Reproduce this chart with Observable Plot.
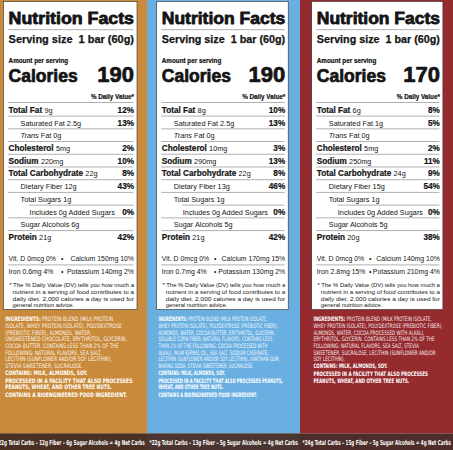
<!DOCTYPE html>
<html><head><meta charset="utf-8">
<script src="https://cdn.jsdelivr.net/npm/d3@7"></script>
<script src="https://cdn.jsdelivr.net/npm/@observablehq/plot@0.6"></script>
<style>html,body{margin:0;padding:0;background:#fff}svg{display:block}</style>
</head><body><div id="chart"></div>
<script>
// ---------------- DATA ----------------
const servingSize = ["1 bar (60g)", "1 bar (60g)", "1 bar (60g)"];
const calories = [190, 190, 170];
const nutrients = ["Total Fat","Saturated Fat","Trans Fat","Cholesterol","Sodium","Total Carbohydrate","Dietary Fiber","Total Sugars","Added Sugars","Sugar Alcohols","Protein"];
const units = ["g","g","g","mg","mg","g","g","g","g","g","g"];
const amountsA = [9, 2.5, 0, 5, 220, 22, 12, 1, 0, 6, 21];
const amountsB = [8, 2.5, 0, 10, 290, 22, 13, 1, 0, 5, 21];
const amountsC = [6, 1, 0, 5, 250, 24, 15, 1, 0, 5, 20];
const dailyA = [12, 13, null, 2, 10, 8, 43, null, 0, null, 42];
const dailyB = [10, 13, null, 3, 13, 8, 46, null, 0, null, 42];
const dailyC = [8, 5, null, 2, 11, 9, 54, null, 0, null, 38];
const minerals = ["Vit. D", "Calcium", "Iron", "Potassium"];
const mineralUnits = ["mcg", "mg", "mg", "mg"];
const mineralAmtA = [0, 150, 0.6, 140], mineralDvA = [0, 10, 4, 2];
const mineralAmtB = [0, 170, 0.7, 130], mineralDvB = [0, 15, 4, 2];
const mineralAmtC = [0, 140, 2.8, 210], mineralDvC = [0, 10, 15, 4];
const totalCarbs = [22, 22, 24];
const fiber = [12, 13, 15];
const sugarAlcohols = [6, 5, 5];
const netCarbs = [4, 4, 4];
const footnote = ["* The % Daily Value (DV) tells you how much a", "nutrient in a serving of food contributes to a", "daily diet. 2,000 calories a day is used for", "general nutrition advice."];
const ingredientsA = [
  "INGREDIENTS: PROTEIN BLEND (MILK PROTEIN",
  "ISOLATE, WHEY PROTEIN ISOLATE), POLYDEXTROSE",
  "(PREBIOTIC FIBER), ALMONDS, WATER,",
  "UNSWEETENED CHOCOLATE, ERYTHRITOL, GLYCERIN,",
  "COCOA BUTTER. CONTAINS LESS THAN 2% OF THE",
  "FOLLOWING: NATURAL FLAVORS, SEA SALT,",
  "LECITHIN (SUNFLOWER AND/OR SOY LECITHIN),",
  "STEVIA SWEETENER, SUCRALOSE."];
const ingredientsB = [
  "INGREDIENTS: PROTEIN BLEND (MILK PROTEIN ISOLATE,",
  "WHEY PROTEIN ISOLATE), POLYDEXTROSE (PREBIOTIC FIBER),",
  "ALMONDS, WATER, COCOA BUTTER, ERYTHRITOL, GLYCERIN,",
  "SOLUBLE CORN FIBER, NATURAL FLAVORS. CONTAINS LESS",
  "THAN 2% OF THE FOLLOWING: COCOA PROCESSED WITH",
  "ALKALI, PALM KERNEL OIL, SEA SALT, SODIUM CASEINATE,",
  "LECITHIN (SUNFLOWER AND/OR SOY LECITHIN), XANTHAN GUM,",
  "BAKING SODA, STEVIA SWEETENER, SUCRALOSE."];
const ingredientsC = [
  "INGREDIENTS: PROTEIN BLEND (MILK PROTEIN ISOLATE,",
  "WHEY PROTEIN ISOLATE), POLYDEXTROSE (PREBIOTIC FIBER),",
  "ALMONDS, WATER, COCOA PROCESSED WITH ALKALI,",
  "ERYTHRITOL, GLYCERIN. CONTAINS LESS THAN 2% OF THE",
  "FOLLOWING: NATURAL FLAVORS, SEA SALT, STEVIA",
  "SWEETENER, SUCRALOSE, LECITHIN (SUNFLOWER AND/OR",
  "SOY LECITHIN)."];
const allergensA = [["CONTAINS: MILK, ALMONDS, SOY."], ["PROCESSED IN A FACILITY THAT ALSO PROCESSES", "PEANUTS, WHEAT, AND OTHER TREE NUTS."], ["CONTAINS A BIOENGINEERED FOOD INGREDIENT."]];
const allergensB = [["CONTAINS: MILK, ALMONDS, SOY."], ["PROCESSED IN A FACILITY THAT ALSO PROCESSES PEANUTS,", "WHEAT, AND OTHER TREE NUTS."], ["CONTAINS A BIOENGINEERED FOOD INGREDIENT."]];
const allergensC = [["CONTAINS: MILK, ALMONDS, SOY."], ["PROCESSED IN A FACILITY THAT ALSO PROCESSES", "PEANUTS, WHEAT, AND OTHER TREE NUTS."]];

const amounts = [amountsA, amountsB, amountsC];
const daily = [dailyA, dailyB, dailyC];
const mineralAmt = [mineralAmtA, mineralAmtB, mineralAmtC];
const mineralDv = [mineralDvA, mineralDvB, mineralDvC];
const ingredients = [ingredientsA, ingredientsB, ingredientsC];
const allergens = [allergensA, allergensB, allergensC];

// ---------------- LAYOUT & STYLE ----------------
const W = 453, H = 450;
const panelEdges = [0, 147, 300, 453];
const boxLeft = [3.5, 156.7, 311.7];
const boxRight = [137, 288.2, 442.9];
const boxTop = 1.5, boxBottom = 309.5, stripTop = 433.3;
const padL = 4.6, padR = 3.5;
const panelFill = ["#c98b3b", "#6aafe2", "#952b2f"];
const stripFill = ["#4b3124", "#4a3532", "#4c2d2a"];
const INK = "#141414", RULE = "#7a7a7a";
const FONT = '"Liberation Sans", Arial, Helvetica, sans-serif';
const NARROW = '"Liberation Sans Narrow", "Arial Narrow", "DejaVu Sans Condensed", "Liberation Sans", sans-serif';
const rowY0 = 112.3, rowStep = 12.72;
const indentLevel = [0, 1, 1, 0, 0, 0, 1, 1, 2, 1, 0];
const boldRow = [true, false, false, true, true, true, false, false, false, false, true];
const ingSize = 6.2, ingStep = 6.67, ingY0 = 320.9;
const ingRegScale = [0.73, 0.623, 0.674], ingBoldScale = [0.80, 0.647, 0.72];
const stripX = [-4.4, 149, 302], stripW = 148.5;

const ctx = document.createElement("canvas").getContext("2d");
function measure(t, size, weight = "normal", style = "normal") {
  ctx.font = `${style} ${weight} ${size}px ${FONT}`;
  return ctx.measureText(t).width;
}

const rects = [], rules = [], boxes = [];
const groups = new Map();
function addText(o) {
  o = Object.assign({weight: "normal", style: "normal", anchor: "start", fill: INK, stroke: null, sw: 0, opacity: 1, fam: FONT}, o);
  const key = [o.size, o.weight, o.style, o.anchor, o.fill, o.stroke, o.sw, o.opacity, o.fam].join("|");
  if (!groups.has(key)) groups.set(key, {o, items: []});
  groups.get(key).items.push(o);
}
const fmt = v => String(v);

for (let p = 0; p < 3; p++) {
  const x0 = boxLeft[p] + padL, xR = boxRight[p] - padR, tw = xR - x0;
  rects.push({x1: panelEdges[p], x2: panelEdges[p + 1], y1: 0, y2: stripTop, c: panelFill[p]});
  rects.push({x1: panelEdges[p], x2: panelEdges[p + 1], y1: stripTop, y2: H, c: stripFill[p]});
  boxes.push({x1: boxLeft[p], x2: boxRight[p], y1: boxTop, y2: boxBottom});
  rects.push({x1: x0, x2: xR, y1: 48, y2: 55, c: INK});
  rects.push({x1: x0, x2: xR, y1: 87, y2: 89.6, c: INK});
  rects.push({x1: x0, x2: xR, y1: 243.8, y2: 251.6, c: INK});
  rects.push({x1: x0, x2: xR, y1: 276.8, y2: 279.4, c: INK});
  rules.push({y: 29.2, x1: x0, x2: xR});
  rules.push({y: 102, x1: x0, x2: xR});
  for (let r = 0; r < nutrients.length - 1; r++) {
    rules.push({y: rowY0 + r * rowStep + 3.3, x1: r === 7 ? x0 + 21 : x0, x2: xR});
  }
  rules.push({y: 264.4, x1: x0, x2: xR});

  addText({x: x0, y: 23.6, t: "Nutrition Facts", size: 16.5, weight: "bold", stroke: INK, sw: 0.8, fitW: tw});
  addText({x: x0, y: 42, t: "Serving size  " + servingSize[p], size: 10.8, weight: "bold", stroke: INK, sw: 0.25, fitW: tw});
  addText({x: x0, y: 62.6, t: "Amount per serving", size: 6.3, weight: "bold", stroke: INK, sw: 0.2});
  addText({x: x0, y: 81, t: "Calories", size: 17.5, weight: "bold", stroke: INK, sw: 0.7});
  addText({x: xR, y: 81, t: String(calories[p]), size: 22, weight: "bold", anchor: "end", stroke: INK, sw: 0.7});
  addText({x: xR, y: 98.6, t: "% Daily Value*", size: 6.3, weight: "bold", anchor: "end", stroke: INK, sw: 0.2});

  const NB = 8.2, NR = 7.3;
  nutrients.forEach((name, r) => {
    const y = rowY0 + r * rowStep;
    const x = x0 + [0, 12, 21][indentLevel[r]];
    const amt = fmt(amounts[p][r]) + units[r];
    if (r === 2) {
      addText({x, y, t: "Trans", size: NR, style: "italic"});
      addText({x: x + measure("Trans", NR, "normal", "italic"), y, t: " Fat " + amt, size: NR});
    } else if (r === 8) {
      addText({x, y, t: "Includes " + amt + " " + name, size: NR});
    } else if (boldRow[r]) {
      addText({x, y, t: name, size: NB, weight: "bold", stroke: INK, sw: 0.2});
      addText({x: x + measure(name + " ", NB, "bold"), y, t: amt, size: NR});
    } else {
      addText({x, y, t: name + " " + amt, size: NR});
    }
    if (daily[p][r] != null) addText({x: xR, y, t: daily[p][r] + "%", size: NB, weight: "bold", anchor: "end", stroke: INK, sw: 0.2});
  });

  const MS = 6.9;
  [[0, 1, 260.6], [2, 3, 273.4]].forEach(([a, b, y]) => {
    addText({x: x0, y, t: `${minerals[a]} ${fmt(mineralAmt[p][a])}${mineralUnits[a]} ${mineralDv[p][a]}%`, size: MS});
    addText({x: x0 + 53.5, y, t: "•", size: MS, anchor: "middle"});
    addText({x: xR, y, t: `${minerals[b]} ${fmt(mineralAmt[p][b])}${mineralUnits[b]} ${mineralDv[p][b]}%`, size: MS, anchor: "end"});
  });

  footnote.forEach((line, i) => {
    const fx = i === 0 ? x0 + 0.6 : x0 + 4;
    const o = {x: fx, y: 286.8 + i * 6.6, t: line, size: 5.8};
    if (i < 3) o.fitW = xR - fx;
    addText(o);
  });

  const ix = boxLeft[p] + 1.2;
  let y = ingY0;
  const regW = t => measure(t, ingSize) * ingRegScale[p];
  const boldW = t => measure(t, ingSize, "bold") * ingBoldScale[p];
  ingredients[p].forEach((line, i) => {
    if (i === 0 && line.startsWith("INGREDIENTS:")) {
      const head = "INGREDIENTS:", rest = line.slice(head.length + 1);
      addText({x: ix, y, t: head, size: ingSize, weight: "bold", fill: "#ffffff", fam: NARROW, fitW: boldW(head)});
      addText({x: ix + boldW(head + " "), y, t: rest, size: ingSize, fill: "#ffffff", opacity: 0.95, fam: NARROW, fitW: regW(rest)});
    } else {
      addText({x: ix, y, t: line, size: ingSize, fill: "#ffffff", opacity: 0.95, fam: NARROW, fitW: regW(line)});
    }
    y += ingStep;
  });
  allergens[p].forEach((para, k) => {
    if (k > 0) y += 1.3;
    para.forEach(line => {
      addText({x: ix, y, t: line, size: ingSize, weight: "bold", fill: "#ffffff", fam: NARROW, fitW: boldW(line)});
      y += ingStep;
    });
  });

  addText({x: stripX[p], y: 444.6, t: `*${totalCarbs[p]}g Total Carbs – ${fiber[p]}g Fiber – ${sugarAlcohols[p]}g Sugar Alcohols = ${netCarbs[p]}g Net Carbs`, size: 6.8, weight: "bold", fill: "#ffffff", fam: NARROW, fitW: stripW});
}

const groupList = [...groups.values()];
const textMarks = groupList.map((g, i) => Plot.text(g.items, {
  x: "x", y: "y", text: "t",
  fontSize: g.o.size, fontWeight: g.o.weight, fontStyle: g.o.style, fontFamily: g.o.fam,
  textAnchor: g.o.anchor, lineAnchor: "bottom",
  fill: g.o.fill, fillOpacity: g.o.opacity,
  ...(g.o.stroke ? {stroke: g.o.stroke, strokeWidth: g.o.sw} : {}),
  className: "txtgrp" + i
}));

const svg = Plot.plot({
  width: W, height: H,
  margin: 0,
  x: {type: "identity", axis: null},
  y: {type: "identity", axis: null},
  color: {type: "identity"},
  style: {background: "transparent", overflow: "hidden"},
  marks: [
    Plot.rect(rects, {x1: "x1", x2: "x2", y1: "y1", y2: "y2", fill: "c"}),
    Plot.rect(boxes, {x1: "x1", x2: "x2", y1: "y1", y2: "y2", fill: "#ffffff", stroke: "#2a2a2a", strokeWidth: 0.6}),
    Plot.ruleY(rules, {y: "y", x1: "x1", x2: "x2", stroke: RULE, strokeWidth: 0.6}),
    ...textMarks
  ]
});
document.getElementById("chart").append(svg);

// text fitting (justification / condensed type)
const topGroups = Array.from(svg.children).filter(n => n.tagName.toLowerCase() === "g");
groupList.forEach((g, i) => {
  let node = svg.querySelector(".txtgrp" + i);
  if (!node) node = topGroups[i + 3];
  if (!node) return;
  const texts = node.tagName.toLowerCase() === "text" ? [node] : Array.from(node.querySelectorAll("text"));
  texts.forEach((el, j) => {
    const it = g.items[j];
    if (!it || it.fitW == null) return;
    el.setAttribute("textLength", it.fitW.toFixed(2));
    el.setAttribute("lengthAdjust", "spacingAndGlyphs");
  });
});
</script>
</body></html>
